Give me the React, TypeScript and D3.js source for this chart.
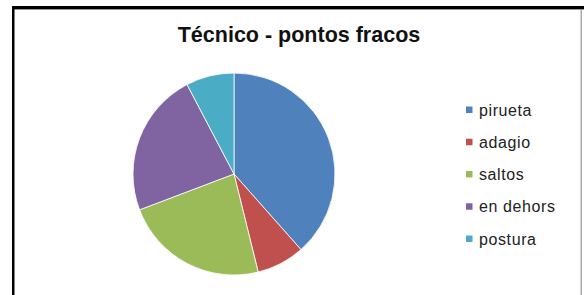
import React from "react";
import * as d3 from "d3";

// chart data
const categories = ["pirueta", "adagio", "saltos", "en dehors", "postura"];
const values = [5, 1, 3, 3, 1];
const colors = ["#4F81BD", "#C0504D", "#9BBB59", "#8064A2", "#4BACC6"];
const title = "Técnico - pontos fracos";

const width = 584;
const height = 295;

export default function App() {
  const cx = 234;
  const cy = 174;
  const radius = 101;

  const pie = d3
    .pie<number>()
    .sort(null)
    .value(d => d);
  const arcs = pie(values);
  const arc = d3.arc<d3.PieArcDatum<number>>().innerRadius(0).outerRadius(radius);

  // legend rows
  const legendY = d3
    .scalePoint<string>()
    .domain(categories)
    .range([110, 239]);

  return (
    <svg
      width={width}
      height={height}
      style={{ position: "absolute", left: 0, top: 0, background: "#fff" }}
    >
      {/* frame */}
      <rect x={12} y={6} width={572} height={3} fill="#000" />
      <rect x={12} y={9} width={572} height={1} fill="#999" />
      <rect x={12} y={6} width={2.5} height={289} fill="#000" />
      <rect x={580.5} y={10} width={1.5} height={285} fill="#aaa" />

      <text
        x={299}
        y={42}
        textAnchor="middle"
        fontFamily="Liberation Sans, Arial, sans-serif"
        fontWeight="bold"
        fontSize={21.5}
        fill="#111"
      >
        {title}
      </text>

      <g transform={`translate(${cx},${cy})`}>
        {arcs.map((a, i) => (
          <path key={categories[i]} d={arc(a) || ""} fill={colors[i]} stroke="#fff" strokeWidth={0.8} />
        ))}
      </g>

      <g>
        {categories.map((c, i) => (
          <g key={c} transform={`translate(466,${legendY(c)})`}>
            <rect x={0} y={-3.5} width={6.5} height={6.5} fill={colors[i]} />
            <text
              x={13}
              y={5.5}
              fontFamily="Liberation Sans, Arial, sans-serif"
              fontSize={16}
              letterSpacing={0.6}
              fill="#222"
            >
              {c}
            </text>
          </g>
        ))}
      </g>
    </svg>
  );
}
